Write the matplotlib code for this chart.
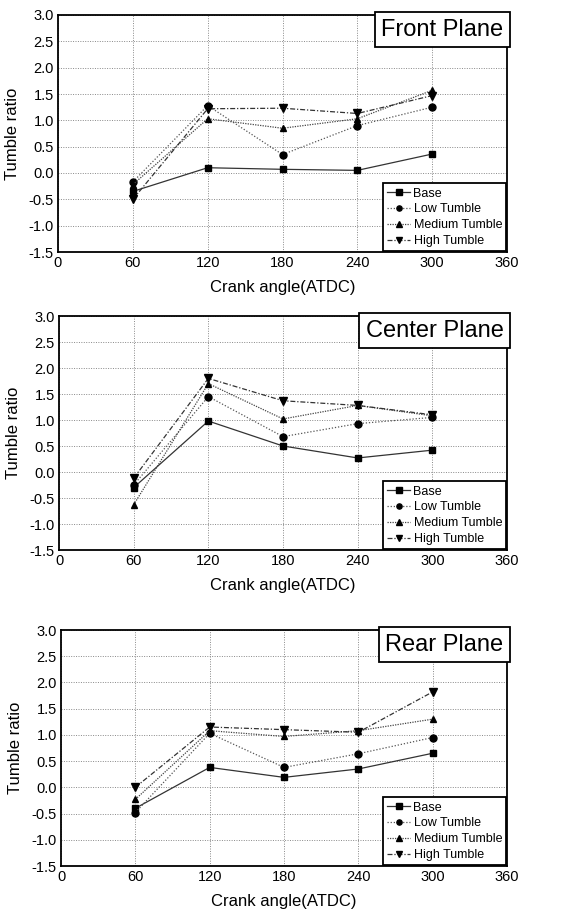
import matplotlib
matplotlib.use("Agg")
import matplotlib.pyplot as plt

plt.rcParams["font.family"] = ["Liberation Sans", "DejaVu Sans"]

crank_angle = [60, 120, 180, 240, 300]
series_names = ["Base", "Low Tumble", "Medium Tumble", "High Tumble"]

front_base = [-0.35, 0.10, 0.07, 0.05, 0.36]
front_low = [-0.17, 1.28, 0.35, 0.90, 1.25]
front_medium = [-0.22, 1.03, 0.85, 1.03, 1.57]
front_high = [-0.50, 1.22, 1.23, 1.13, 1.47]

center_base = [-0.30, 0.98, 0.50, 0.27, 0.42]
center_low = [-0.25, 1.45, 0.68, 0.93, 1.05]
center_medium = [-0.63, 1.70, 1.02, 1.28, 1.08]
center_high = [-0.12, 1.80, 1.37, 1.28, 1.10]

rear_base = [-0.40, 0.38, 0.19, 0.35, 0.65]
rear_low = [-0.48, 1.03, 0.38, 0.64, 0.95]
rear_medium = [-0.23, 1.08, 0.97, 1.08, 1.30]
rear_high = [0.00, 1.15, 1.10, 1.05, 1.82]

panels = [
    ("Front Plane", [front_base, front_low, front_medium, front_high]),
    ("Center Plane", [center_base, center_low, center_medium, center_high]),
    ("Rear Plane", [rear_base, rear_low, rear_medium, rear_high]),
]

markers = ["s", "o", "^", "v"]
marker_sizes = [5, 5, 5, 6]
line_styles = ["-", (0, (1, 1.5)), (0, (1, 1)), (0, (4, 1.5, 1, 1.5))]
line_colors = ["#333333", "#555555", "#444444", "#333333"]

# axes boxes in figure pixels: left, top, right, bottom
boxes = [(58, 15, 507, 252), (59, 316, 507, 550), (61, 630, 507, 866)]
W, H = 587, 911

fig = plt.figure(figsize=(W / 100, H / 100), dpi=100)

for (title, data), (l, t, r, b) in zip(panels, boxes):
    ax = fig.add_axes([l / W, (H - b) / H, (r - l) / W, (b - t) / H])
    for values, name, m, ms, ls, c in zip(
        data, series_names, markers, marker_sizes, line_styles, line_colors
    ):
        ax.plot(crank_angle, values, linestyle=ls, color=c, linewidth=0.9,
                marker=m, markersize=ms, markerfacecolor="black",
                markeredgecolor="black", label=name)

    ax.set_xlim(0, 360)
    ax.set_ylim(-1.5, 3.0)
    ax.set_xticks([0, 60, 120, 180, 240, 300, 360])
    ax.set_yticks([-1.5, -1.0, -0.5, 0.0, 0.5, 1.0, 1.5, 2.0, 2.5, 3.0])
    ax.set_yticklabels([f"{v:.1f}" for v in ax.get_yticks()])
    ax.tick_params(direction="in", length=0, labelsize=10.5, pad=3)
    ax.grid(True, linestyle=(0, (1, 1.5)), color="#888888", linewidth=0.7)
    for spine in ax.spines.values():
        spine.set_linewidth(1.3)
    ax.set_xlabel("Crank angle(ATDC)", fontsize=12, labelpad=7)
    ax.set_ylabel("Tumble ratio", fontsize=12, labelpad=6)

    ax.text(0.992, 0.985, title, transform=ax.transAxes, ha="right", va="top",
            fontsize=17,
            bbox=dict(boxstyle="square,pad=0.28", facecolor="white",
                      edgecolor="black", linewidth=1.3))

    leg = ax.legend(loc="lower right", fontsize=9, frameon=True,
                    fancybox=False, edgecolor="black", framealpha=1,
                    borderaxespad=0.05, handlelength=1.8, handletextpad=0.3,
                    labelspacing=0.3, borderpad=0.35, markerscale=0.75)
    leg.get_frame().set_linewidth(1.3)

fig.savefig("out.png", dpi=100)
